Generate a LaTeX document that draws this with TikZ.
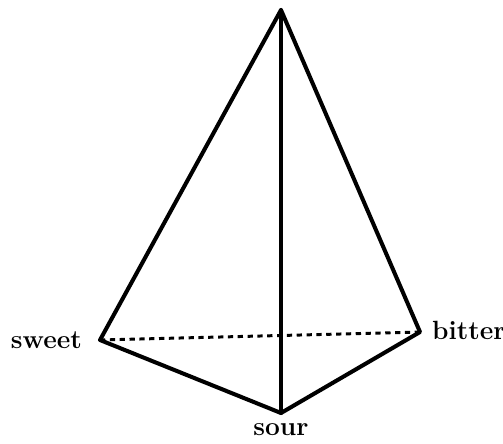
\documentclass[tikz,border=0pt]{standalone}
\usepackage{amsmath}
\usepackage{tikz}

\begin{document}
\begin{tikzpicture}[x=0.02cm, y=-0.02cm]
					\useasboundingbox (0,0) rectangle (503,443);
					\def\edgew{2.3pt}
					\tikzset{edge/.style={black, line width=\edgew, line join=round, line cap=round},
						hidden/.style={black, line width=1.7pt, dash pattern=on 3pt off 2.6pt},
						taste/.style={font=\fontsize{15}{17}\selectfont\bfseries, inner sep=1pt}}
					\coordinate (A) at (281,10);
					\coordinate (Sw) at (100,340);
					\coordinate (Bi) at (420,332);
					\coordinate (So) at (281,413);
					\node[taste, anchor=east] (sweet) at (84,340) {sweet};
					\node[taste, anchor=west] (bitter) at (430,330) {bitter};
					\node[taste, anchor=north] (sour) at (281,421) {sour};
					\draw[hidden] (Sw) -- (Bi);
					\draw[edge] (A) -- (Sw) -- (So) -- (Bi) -- cycle;
					\draw[edge] (A) -- (So);
				\end{tikzpicture}
\end{document}
